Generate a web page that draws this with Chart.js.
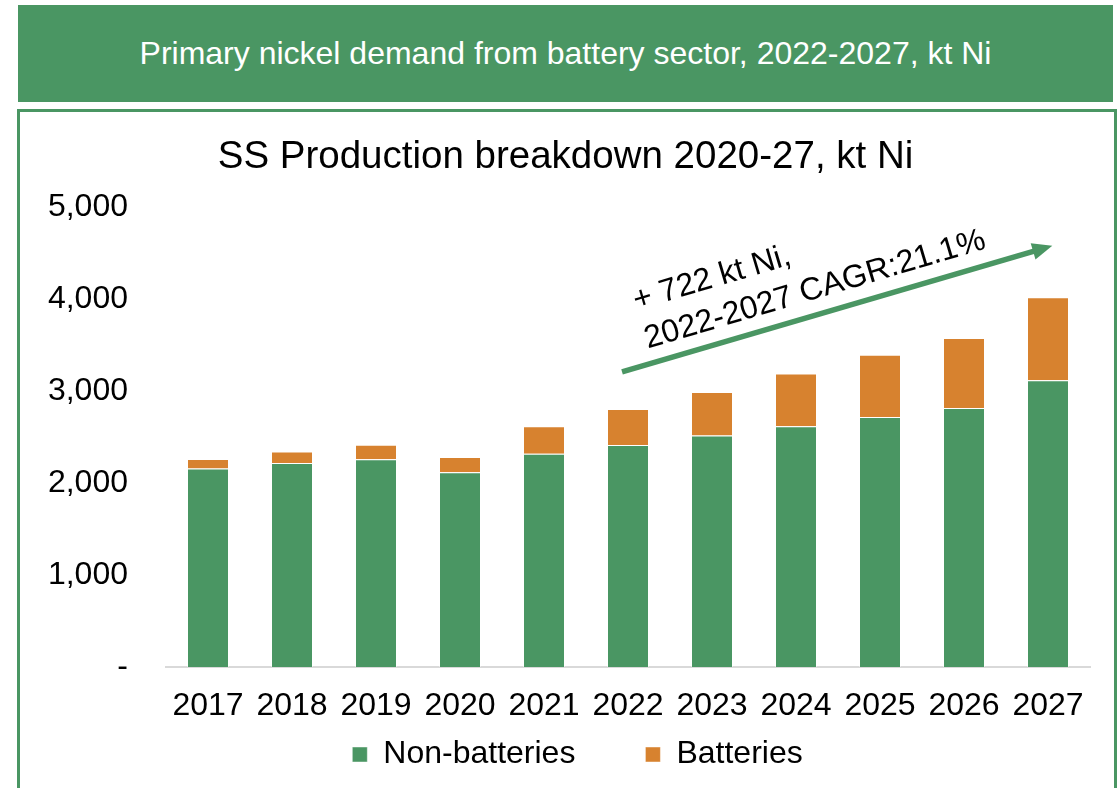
<!DOCTYPE html>
<html>
<head>
<meta charset="utf-8">
<script src="https://cdn.jsdelivr.net/npm/chart.js@4/dist/chart.umd.min.js"></script>
<style>
html,body{margin:0;padding:0;background:#fff;width:1117px;height:788px;overflow:hidden;font-family:"Liberation Sans",Arial,sans-serif;}
#header{position:absolute;left:18px;top:5px;width:1095px;height:97px;background:#4A9663;color:#fff;font-size:32px;display:flex;align-items:center;justify-content:center;white-space:nowrap;}
#frame{position:absolute;left:17px;top:109px;width:1100px;height:720px;border:3px solid #4A9663;border-bottom:none;box-sizing:border-box;}
#c{position:absolute;left:0;top:0;}
</style>
</head>
<body>
<div id="header">Primary nickel demand from battery sector, 2022-2027, kt Ni</div>
<div id="frame"></div>
<canvas id="c" width="1117" height="788"></canvas>
<script>
// ---- data ----
const years = ['2017','2018','2019','2020','2021','2022','2023','2024','2025','2026','2027'];
const nonBatteries = [2160, 2220, 2260, 2120, 2320, 2415, 2520, 2620, 2720, 2820, 3120];
const batteries = [105, 125, 160, 165, 300, 392, 472, 574, 679, 762, 904];
const yTickLabels = ['-', '1,000', '2,000', '3,000', '4,000', '5,000'];
const seriesNames = ['Non-batteries', 'Batteries'];
const chartTitle = 'SS Production breakdown 2020-27, kt Ni';
const annotationLines = ['+ 722 kt Ni,', '2022-2027 CAGR:21.1%'];

// ---- styling / annotation geometry (in axis units) ----
const GREEN = '#4A9663';
const ORANGE = '#D7822F';
const FONT = '"Liberation Sans", Arial, sans-serif';
const arrowStart = {x: 4.929, y: 3213};
const arrowEnd = {x: 10.051, y: 4585};
const textAnchor = {x: 5.07, y: 3975};
const textAngleDeg = -16.5;
const textLineGap = 40;
const legendShiftX = 12;
const legendLift = 59.5;

Chart.defaults.font.family = FONT;
Chart.defaults.color = '#000';

const annotationPlugin = {
  id: 'cagrArrow',
  afterLayout(chart) {
    const L = chart.legend;
    if (L) {
      L.left += legendShiftX; L.right += legendShiftX;
      L.top -= legendLift;
    }
  },
  afterDatasetsDraw(chart) {
    const {ctx, scales: {x, y}} = chart;
    const x0 = x.getPixelForValue(arrowStart.x), y0 = y.getPixelForValue(arrowStart.y);
    const x1 = x.getPixelForValue(arrowEnd.x), y1 = y.getPixelForValue(arrowEnd.y);
    const ang = Math.atan2(y1 - y0, x1 - x0);
    const headLen = 20, headHalf = 8.5;
    const bx = x1 - headLen * Math.cos(ang), by = y1 - headLen * Math.sin(ang);
    ctx.save();
    ctx.strokeStyle = GREEN;
    ctx.fillStyle = GREEN;
    ctx.lineWidth = 5.5;
    ctx.beginPath();
    ctx.moveTo(x0, y0);
    ctx.lineTo(bx + 2 * Math.cos(ang), by + 2 * Math.sin(ang));
    ctx.stroke();
    ctx.beginPath();
    ctx.moveTo(x1, y1);
    ctx.lineTo(bx + headHalf * Math.sin(ang), by - headHalf * Math.cos(ang));
    ctx.lineTo(bx - headHalf * Math.sin(ang), by + headHalf * Math.cos(ang));
    ctx.closePath();
    ctx.fill();
    // rotated text
    const tx = x.getPixelForValue(textAnchor.x), ty = y.getPixelForValue(textAnchor.y);
    ctx.translate(tx, ty);
    ctx.rotate(textAngleDeg * Math.PI / 180);
    ctx.fillStyle = '#000';
    ctx.font = '32px ' + FONT;
    ctx.textAlign = 'left';
    ctx.textBaseline = 'middle';
    annotationLines.forEach((line, i) => ctx.fillText(line, 0, i * textLineGap));
    ctx.restore();
  }
};

new Chart(document.getElementById('c'), {
  type: 'bar',
  data: {
    labels: years,
    datasets: [
      {label: seriesNames[0], data: nonBatteries, backgroundColor: GREEN, borderColor: 'rgba(255,255,255,0.45)', borderWidth: 1},
      {label: seriesNames[1], data: batteries, backgroundColor: ORANGE, borderColor: 'rgba(255,255,255,0.45)', borderWidth: 1}
    ]
  },
  options: {
    responsive: false,
    devicePixelRatio: 1,
    animation: false,
    events: [],
    datasets: {bar: {categoryPercentage: 1, barPercentage: 0.5}},
    layout: {padding: {left: 41, right: 27, top: 0, bottom: 0}},
    plugins: {
      title: {
        display: true,
        text: chartTitle,
        color: '#000',
        font: {size: 38.5, weight: 'normal', family: FONT},
        padding: {top: 134, bottom: 27.4}
      },
      legend: {
        position: 'bottom',
        maxHeight: 60,
        labels: {boxWidth: 15, boxHeight: 15, padding: 70, color: '#000', font: {size: 32, family: FONT}}
      },
      tooltip: {enabled: false}
    },
    scales: {
      x: {
        stacked: true,
        grid: {display: false, drawTicks: false},
        border: {display: true, color: '#D9D9D9', width: 2},
        ticks: {font: {size: 32, family: FONT}, color: '#000', padding: 20, maxRotation: 0, autoSkip: false},
        afterFit(s) { s.height = 61; }
      },
      y: {
        stacked: true,
        min: 0,
        max: 5000,
        grid: {display: false, drawTicks: false},
        border: {display: false},
        ticks: {
          stepSize: 1000,
          font: {size: 32, family: FONT},
          color: '#000',
          padding: 38,
          callback: (v, i) => yTickLabels[i]
        },
        afterFit(s) { s.width = 125; }
      }
    }
  },
  plugins: [annotationPlugin]
});
</script>
</body>
</html>
